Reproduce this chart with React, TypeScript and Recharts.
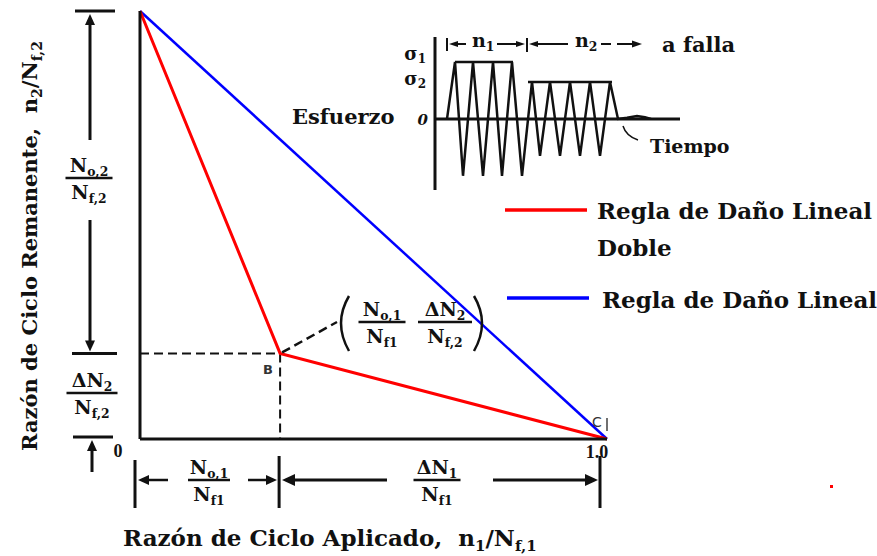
import { LineChart, Line, XAxis, YAxis, ReferenceLine } from 'recharts'

const W = 877
const H = 556

// cycle ratios: applied n1/Nf,1 against remaining n2/Nf,2
const linearApplied = [0, 1]
const linearRemaining = [1, 0]
const doubleApplied = [0, 0.3, 1]
const doubleRemaining = [1, 0.2, 0]

// inset stress history (time in arbitrary units)
const stressTime = [1.2, 2.0, 2.8, 3.8, 4.8, 5.8, 6.7, 7.7, 8.7, 9.7, 10.5, 11.5, 12.5, 13.5, 14.5, 15.5, 16.5, 17.5, 18.3, 19.2, 20.2, 21.0, 21.6]
const stressValue = [0, 1, -1, 1, -1, 1, -1, 1, -1, 0.65, -0.65, 0.65, -0.65, 0.65, -0.65, 0.65, -0.65, 0.65, 0, 0.02, 0.05, 0.03, 0]
// flat peak envelopes of the sigma1 and sigma2 blocks
const envTime = [2.0, 7.8, 8.5, 9.3, 17.7]
const envValue = [1, 1, null, 0.65, 0.65]
const stressTicks = [0, 0.65, 1]

const linearData = linearApplied.map((x, i) => ({ x, y: linearRemaining[i] }))
const doubleData = doubleApplied.map((x, i) => ({ x, y: doubleRemaining[i] }))
const stressData = stressTime.map((t, i) => ({ t, s: stressValue[i] }))
const envData = envTime.map((t, i) => ({ t, s: envValue[i] }))

const kneeX = doubleApplied[1]
const kneeY = doubleRemaining[1]

// main plot box
const PL = 140
const PT = 11
const PW = 467
const PH = 428
const px = (v: number) => PL + v * PW
const py = (v: number) => PT + PH - v * PH

const serif = '"DejaVu Serif", serif'
const ink = '#111'

function Arrow({ x, y, dir, len = 11, half = 5 }: { x: number; y: number; dir: 'up' | 'down' | 'left' | 'right'; len?: number; half?: number }) {
  let pts = ''
  if (dir === 'up') pts = `${x},${y} ${x - half},${y + len} ${x + half},${y + len}`
  if (dir === 'down') pts = `${x},${y} ${x - half},${y - len} ${x + half},${y - len}`
  if (dir === 'left') pts = `${x},${y} ${x + len},${y - half} ${x + len},${y + half}`
  if (dir === 'right') pts = `${x},${y} ${x - len},${y - half} ${x - len},${y + half}`
  return <polygon points={pts} fill={ink} />
}

function Seg({ x1, y1, x2, y2, w = 2.5, dash }: { x1: number; y1: number; x2: number; y2: number; w?: number; dash?: string }) {
  return <line x1={x1} y1={y1} x2={x2} y2={y2} stroke={ink} strokeWidth={w} strokeDasharray={dash} />
}

function Sym({ x, y, main, sub, size = 20, anchor = 'middle' }: { x: number; y: number; main: string; sub?: string; size?: number; anchor?: string }) {
  return (
    <text x={x} y={y} textAnchor={anchor} fontFamily={serif} fontWeight="bold" fontSize={size} fill={ink}>
      {main}
      {sub ? (
        <tspan fontSize={size * 0.65} dy={4}>
          {sub}
        </tspan>
      ) : null}
    </text>
  )
}

function Frac({ cx, y, num, numSub, den, denSub, w }: { cx: number; y: number; num: string; numSub: string; den: string; denSub: string; w: number }) {
  return (
    <g>
      <Sym x={cx} y={y - 6} main={num} sub={numSub} size={19} />
      <Seg x1={cx - w / 2} y1={y} x2={cx + w / 2} y2={y} w={2.5} />
      <Sym x={cx} y={y + 21} main={den} sub={denSub} size={19} />
    </g>
  )
}

function StressTick(props: any) {
  const { x, y, payload } = props
  if (payload.value === 0) {
    return (
      <text x={x + 2} y={y + 6} textAnchor="end" fontFamily={serif} fontStyle="italic" fontWeight="bold" fontSize={15} fill={ink}>
        0
      </text>
    )
  }
  const top = payload.value === 1
  return (
    <text x={x} y={top ? y - 2 : y + 3} textAnchor="end" fontFamily={serif} fontWeight="bold" fontSize={18} fill={ink}>
      σ
      <tspan fontSize={12} dy={3}>
        {top ? '1' : '2'}
      </tspan>
    </text>
  )
}

function RatioTick(props: any) {
  const { x, payload } = props
  const y = py(0) + 18
  if (payload.value === 0) {
    return (
      <text x={x - 22} y={y} textAnchor="middle" fontFamily='"Liberation Serif", serif' fontWeight="bold" fontSize={18} fill={ink}>
        0
      </text>
    )
  }
  return (
    <text x={x - 10} y={y + 1} textAnchor="middle" fontFamily='"Liberation Serif", serif' fontWeight="bold" fontSize={18} fill={ink}>
      1.0
    </text>
  )
}

function Annotations() {
  const yTop = py(1)
  const yKnee = py(kneeY)
  const yZero = py(0)
  const xKnee = px(kneeX)
  const dimY = 480
  return (
    <svg width={W} height={H} style={{ position: 'absolute', left: 0, top: 0, pointerEvents: 'none' }}>
      {/* left dimension column */}
      <Seg x1={75} y1={yTop} x2={115} y2={yTop} w={3} />
      <Arrow x={90} y={yTop + 3} dir="up" />
      <Seg x1={90} y1={yTop + 12} x2={90} y2={140} w={3} />
      <Frac cx={89} y={178} num="N" numSub="o,2" den="N" denSub="f,2" w={47} />
      <Seg x1={90} y1={220} x2={90} y2={yKnee - 10} w={3} />
      <Arrow x={90} y={yKnee - 2} dir="down" />
      <Seg x1={72} y1={yKnee} x2={117} y2={yKnee} w={3} />
      <Frac cx={92} y={393} num="ΔN" numSub="2" den="N" denSub="f,2" w={51} />
      <Seg x1={73} y1={yZero - 2} x2={113} y2={yZero - 2} w={3} />
      <Arrow x={92} y={yZero + 1} dir="up" />
      <Seg x1={92} y1={yZero + 10} x2={92} y2={472} w={3} />

      {/* bottom dimension row */}
      <Seg x1={135} y1={460} x2={135} y2={508} w={3} />
      <Arrow x={138} y={dimY} dir="left" />
      <Seg x1={148} y1={dimY} x2={168} y2={dimY} w={2.5} />
      <Frac cx={209} y={dimY} num="N" numSub="o,1" den="N" denSub="f1" w={42} />
      <Seg x1={248} y1={dimY} x2={268} y2={dimY} w={2.5} />
      <Arrow x={277} y={dimY} dir="right" />
      <Seg x1={xKnee - 1} y1={456} x2={xKnee - 1} y2={508} w={3} />
      <Arrow x={282} y={dimY} dir="left" len={13} half={6} />
      <Seg x1={294} y1={dimY} x2={387} y2={dimY} w={3} />
      <Frac cx={437} y={dimY} num="ΔN" numSub="1" den="N" denSub="f1" w={47} />
      <Seg x1={493} y1={dimY} x2={588} y2={dimY} w={3} />
      <Arrow x={598} y={dimY} dir="right" len={13} half={6} />
      <Seg x1={600} y1={456} x2={600} y2={508} w={3} />

      {/* knee point leader and coordinates */}
      <Seg x1={xKnee + 2} y1={yKnee - 1} x2={337} y2={322} w={2.5} dash="9 5" />
      <path d="M 349 296 Q 333 323 349 351" fill="none" stroke={ink} strokeWidth={2.5} />
      <Frac cx={382} y={322} num="N" numSub="o,1" den="N" denSub="f1" w={47} />
      <Frac cx={445} y={322} num="ΔN" numSub="2" den="N" denSub="f,2" w={54} />
      <path d="M 474 296 Q 490 323 474 351" fill="none" stroke={ink} strokeWidth={2.5} />
      <text x={268} y={374} textAnchor="middle" fontFamily='"DejaVu Sans", sans-serif' fontWeight="bold" fontSize={13} fill="#333">
        B
      </text>
      <text x={597} y={427} textAnchor="middle" fontFamily='"DejaVu Sans", sans-serif' fontSize={14} fill="#333">
        C
      </text>
      <Seg x1={607} y1={418} x2={607} y2={431} w={1.2} />

      {/* legend */}
      <line x1={505} y1={210} x2={587} y2={210} stroke="#ff0000" strokeWidth={3.5} />
      <text x={597} y={219} fontFamily={serif} fontWeight="bold" fontSize={23} fill={ink}>
        Regla de Daño Lineal
      </text>
      <text x={597} y={256} fontFamily={serif} fontWeight="bold" fontSize={23} fill={ink}>
        Doble
      </text>
      <line x1={507} y1={298} x2={589} y2={298} stroke="#0000ff" strokeWidth={3.5} />
      <text x={602} y={308} fontFamily={serif} fontWeight="bold" fontSize={23} fill={ink}>
        Regla de Daño Lineal
      </text>

      {/* axis titles */}
      <text x={123} y={546} fontFamily={serif} fontWeight="bold" fontSize={23} fill={ink}>
        Razón de Ciclo Aplicado,{'\u00a0\u00a0'}n
        <tspan fontSize={15} dy={5}>1</tspan>
        <tspan dy={-5}>/N</tspan>
        <tspan fontSize={15} dy={5}>f,1</tspan>
      </text>
      <text transform="translate(37, 246) rotate(-90)" textAnchor="middle" fontFamily={serif} fontWeight="bold" fontSize={21} fill={ink}>
        Razón de Ciclo Remanente,{'\u00a0\u00a0'}n
        <tspan fontSize={14} dy={5}>2</tspan>
        <tspan dy={-5}>/N</tspan>
        <tspan fontSize={14} dy={5}>f,2</tspan>
      </text>

      {/* inset labels */}
      <text x={292} y={124} fontFamily={serif} fontWeight="bold" fontSize={21} fill={ink}>
        Esfuerzo
      </text>
      <text x={650} y={153} fontFamily={serif} fontWeight="bold" fontSize={19} fill={ink}>
        Tiempo
      </text>
      <path d="M 623 126 Q 626 136 638 140" fill="none" stroke={ink} strokeWidth={1.5} />
      <Seg x1={447} y1={38} x2={447} y2={51} w={2} />
      <Arrow x={449} y={44} dir="left" len={9} half={3} />
      <Seg x1={456} y1={44} x2={466} y2={44} w={2} />
      <Sym x={472} y={47} main="n" sub="1" size={19} anchor="start" />
      <Seg x1={497} y1={44} x2={518} y2={44} w={2} />
      <Arrow x={525} y={44} dir="right" len={9} half={3} />
      <Seg x1={527} y1={38} x2={527} y2={52} w={2} />
      <Arrow x={529} y={44} dir="left" len={9} half={3} />
      <Seg x1={536} y1={44} x2={568} y2={44} w={2} />
      <Sym x={575} y={47} main="n" sub="2" size={19} anchor="start" />
      <Seg x1={601} y1={44} x2={611} y2={44} w={2} />
      <Seg x1={617} y1={44} x2={632} y2={44} w={2} />
      <Arrow x={642} y={44} dir="right" len={10} half={3.5} />
      <text x={662} y={52} fontFamily={serif} fontWeight="bold" fontSize={21} fill={ink}>
        a falla
      </text>

      <rect x={830} y={485} width={3} height={3} fill="#ff0000" />
    </svg>
  )
}

export default function App() {
  return (
    <div style={{ position: 'absolute', left: 0, top: 0, width: W, height: H, background: '#fff' }}>
      <LineChart width={W} height={H} margin={{ top: 11, right: 270, bottom: 87, left: 80 }}>
        <XAxis
          type="number"
          dataKey="x"
          domain={[0, 1]}
          ticks={[0, 1]}
          interval={0}
          height={30}
          axisLine={{ stroke: ink, strokeWidth: 3 }}
          tickLine={false}
          tick={RatioTick}
        />
        <YAxis type="number" domain={[0, 1]} width={60} axisLine={{ stroke: ink, strokeWidth: 3 }} tickLine={false} tick={false} />
        <ReferenceLine
          segment={[
            { x: 0, y: kneeY },
            { x: kneeX, y: kneeY },
          ]}
          stroke={ink}
          strokeWidth={2}
          strokeDasharray="9 5"
        />
        <ReferenceLine
          segment={[
            { x: kneeX, y: kneeY },
            { x: kneeX, y: 0 },
          ]}
          stroke={ink}
          strokeWidth={2}
          strokeDasharray="9 5"
        />
        <Line data={linearData} dataKey="y" type="linear" stroke="#0000ff" strokeWidth={2.5} dot={false} isAnimationActive={false} />
        <Line data={doubleData} dataKey="y" type="linear" stroke="#ff0000" strokeWidth={3} dot={false} isAnimationActive={false} />
      </LineChart>

      <div style={{ position: 'absolute', left: 0, top: 0 }}>
        <LineChart width={W} height={H} margin={{ top: 37, right: 197, bottom: 366, left: 375 }}>
          <XAxis type="number" dataKey="t" domain={[0, 24.5]} hide />
          <YAxis
            type="number"
            domain={[-1.25, 1.44]}
            ticks={stressTicks}
            interval={0}
            width={60}
            axisLine={{ stroke: ink, strokeWidth: 3 }}
            tickLine={false}
            tickSize={0}
            tickMargin={9}
            tick={StressTick}
          />
          <ReferenceLine y={0} stroke={ink} strokeWidth={3} />
          <Line data={stressData} dataKey="s" type="linear" stroke={ink} strokeWidth={2.5} dot={false} isAnimationActive={false} />
          <Line data={envData} dataKey="s" type="linear" stroke={ink} strokeWidth={2.5} dot={false} isAnimationActive={false} />
        </LineChart>
      </div>

      <Annotations />
    </div>
  )
}
